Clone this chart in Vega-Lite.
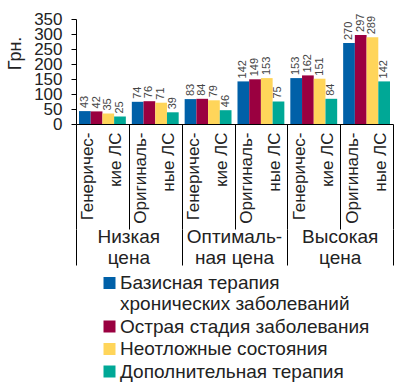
{
  "$schema": "https://vega.github.io/schema/vega-lite/v6.json",
  "padding": {"left": 6, "top": 10, "right": 2, "bottom": 2},
  "config": {
    "view": {"stroke": null},
    "font": "Liberation Sans",
    "axis": {"domainColor": "black", "tickColor": "black", "labelColor": "#222", "titleColor": "#222"}
  },
  "datasets": {
    "bars": [
      {"price": "Низкая цена", "type": "Генерические ЛС", "key": "Низкая цена|Генерические ЛС", "series": "Базисная терапия хронических заболеваний", "value": 43},
      {"price": "Низкая цена", "type": "Генерические ЛС", "key": "Низкая цена|Генерические ЛС", "series": "Острая стадия заболевания", "value": 42},
      {"price": "Низкая цена", "type": "Генерические ЛС", "key": "Низкая цена|Генерические ЛС", "series": "Неотложные состояния", "value": 35},
      {"price": "Низкая цена", "type": "Генерические ЛС", "key": "Низкая цена|Генерические ЛС", "series": "Дополнительная терапия", "value": 25},
      {"price": "Низкая цена", "type": "Оригинальные ЛС", "key": "Низкая цена|Оригинальные ЛС", "series": "Базисная терапия хронических заболеваний", "value": 74},
      {"price": "Низкая цена", "type": "Оригинальные ЛС", "key": "Низкая цена|Оригинальные ЛС", "series": "Острая стадия заболевания", "value": 76},
      {"price": "Низкая цена", "type": "Оригинальные ЛС", "key": "Низкая цена|Оригинальные ЛС", "series": "Неотложные состояния", "value": 71},
      {"price": "Низкая цена", "type": "Оригинальные ЛС", "key": "Низкая цена|Оригинальные ЛС", "series": "Дополнительная терапия", "value": 39},
      {"price": "Оптимальная цена", "type": "Генерические ЛС", "key": "Оптимальная цена|Генерические ЛС", "series": "Базисная терапия хронических заболеваний", "value": 83},
      {"price": "Оптимальная цена", "type": "Генерические ЛС", "key": "Оптимальная цена|Генерические ЛС", "series": "Острая стадия заболевания", "value": 84},
      {"price": "Оптимальная цена", "type": "Генерические ЛС", "key": "Оптимальная цена|Генерические ЛС", "series": "Неотложные состояния", "value": 79},
      {"price": "Оптимальная цена", "type": "Генерические ЛС", "key": "Оптимальная цена|Генерические ЛС", "series": "Дополнительная терапия", "value": 46},
      {"price": "Оптимальная цена", "type": "Оригинальные ЛС", "key": "Оптимальная цена|Оригинальные ЛС", "series": "Базисная терапия хронических заболеваний", "value": 142},
      {"price": "Оптимальная цена", "type": "Оригинальные ЛС", "key": "Оптимальная цена|Оригинальные ЛС", "series": "Острая стадия заболевания", "value": 149},
      {"price": "Оптимальная цена", "type": "Оригинальные ЛС", "key": "Оптимальная цена|Оригинальные ЛС", "series": "Неотложные состояния", "value": 153},
      {"price": "Оптимальная цена", "type": "Оригинальные ЛС", "key": "Оптимальная цена|Оригинальные ЛС", "series": "Дополнительная терапия", "value": 75},
      {"price": "Высокая цена", "type": "Генерические ЛС", "key": "Высокая цена|Генерические ЛС", "series": "Базисная терапия хронических заболеваний", "value": 153},
      {"price": "Высокая цена", "type": "Генерические ЛС", "key": "Высокая цена|Генерические ЛС", "series": "Острая стадия заболевания", "value": 162},
      {"price": "Высокая цена", "type": "Генерические ЛС", "key": "Высокая цена|Генерические ЛС", "series": "Неотложные состояния", "value": 151},
      {"price": "Высокая цена", "type": "Генерические ЛС", "key": "Высокая цена|Генерические ЛС", "series": "Дополнительная терапия", "value": 84},
      {"price": "Высокая цена", "type": "Оригинальные ЛС", "key": "Высокая цена|Оригинальные ЛС", "series": "Базисная терапия хронических заболеваний", "value": 270},
      {"price": "Высокая цена", "type": "Оригинальные ЛС", "key": "Высокая цена|Оригинальные ЛС", "series": "Острая стадия заболевания", "value": 297},
      {"price": "Высокая цена", "type": "Оригинальные ЛС", "key": "Высокая цена|Оригинальные ЛС", "series": "Неотложные состояния", "value": 289},
      {"price": "Высокая цена", "type": "Оригинальные ЛС", "key": "Высокая цена|Оригинальные ЛС", "series": "Дополнительная терапия", "value": 142}
    ],
    "prices": [
      {"price": "Низкая цена", "label": "Низкая\nцена"},
      {"price": "Оптимальная цена", "label": "Оптималь-\nная цена"},
      {"price": "Высокая цена", "label": "Высокая\nцена"}
    ]
  },
  "bounds": "flush",
  "spacing": 105,
  "resolve": {"scale": {"color": "shared"}, "legend": {"color": "shared"}},
  "vconcat": [
    {
      "width": 317,
      "height": 105,
      "data": {"name": "bars"},
      "resolve": {"axis": {"x": "independent"}},
      "encoding": {
        "xOffset": {"field": "series", "type": "nominal", "sort": null, "scale": {"paddingInner": 0, "paddingOuter": 0.255}},
        "y": {
          "field": "value", "type": "quantitative",
          "scale": {"domain": [0, 350], "nice": false},
          "axis": {
            "title": "Грн.", "titleFontSize": 18, "titleFontWeight": "normal", "titlePadding": 9, "titleY": 34,
            "values": [0, 50, 100, 150, 200, 250, 300, 350],
            "labelFontSize": 17, "labelPadding": 9, "tickSize": 5, "grid": false,
            "labelOverlap": false, "labelFlush": false
          }
        }
      },
      "layer": [
        {
          "mark": {"type": "bar"},
          "encoding": {
            "x": {
              "field": "key", "type": "nominal", "sort": null,
              "scale": {"paddingInner": 0, "paddingOuter": 0},
              "axis": {
                "title": null, "labelAngle": 270, "orient": "bottom",
                "labelExpr": "test(/Генер/, datum.label) ? ['Генеричес-', 'кие ЛС'] : ['Оригиналь-', 'ные ЛС']",
                "labelFontSize": 17, "labelLineHeight": 28, "labelPadding": 8, "labelOffset": -14,
                "ticks": false, "labelLimit": 0
              }
            },
            "color": {
              "field": "series", "type": "nominal", "sort": null,
              "scale": {
                "domain": ["Базисная терапия хронических заболеваний", "Острая стадия заболевания", "Неотложные состояния", "Дополнительная терапия"],
                "range": ["#0060A8", "#9A0040", "#FFD55A", "#00A896"]
              },
              "legend": {
                "title": null, "orient": "none", "legendX": 24, "legendY": 254.5,
                "symbolType": "square", "symbolSize": 144, "symbolStrokeWidth": 0,
                "labelFontSize": 19, "labelColor": "#222", "labelLimit": 0, "labelOffset": 1, "rowPadding": 2.5,
                "labelExpr": "test(/Базисная/, datum.label) ? ['Базисная терапия', 'хронических заболеваний'] : datum.label"
              }
            }
          }
        },
        {
          "mark": {"type": "text", "angle": 270, "align": "left", "baseline": "middle", "dx": 3, "fontSize": 11, "color": "#444"},
          "encoding": {
            "x": {
              "field": "key", "type": "nominal", "sort": null,
              "axis": {
                "title": null, "orient": "bottom", "labels": false, "domain": false,
                "tickBand": "extent", "tickSize": 105
              }
            },
            "text": {"field": "value", "type": "quantitative"}
          }
        }
      ]
    },
    {
      "width": 317,
      "height": 36,
      "data": {"name": "prices"},
      "mark": {"type": "text", "lineBreak": "\n", "fontSize": 19, "lineHeight": 21, "dy": -10, "color": "#222"},
      "encoding": {
        "x": {
          "field": "price", "type": "nominal", "sort": null,
          "scale": {"paddingInner": 0, "paddingOuter": 0},
          "axis": {"title": null, "labels": false, "ticks": false, "domain": false, "grid": true, "tickBand": "extent", "gridColor": "black", "gridOpacity": 1, "gridWidth": 1}
        },
        "text": {"field": "label"}
      }
    }
  ]
}
